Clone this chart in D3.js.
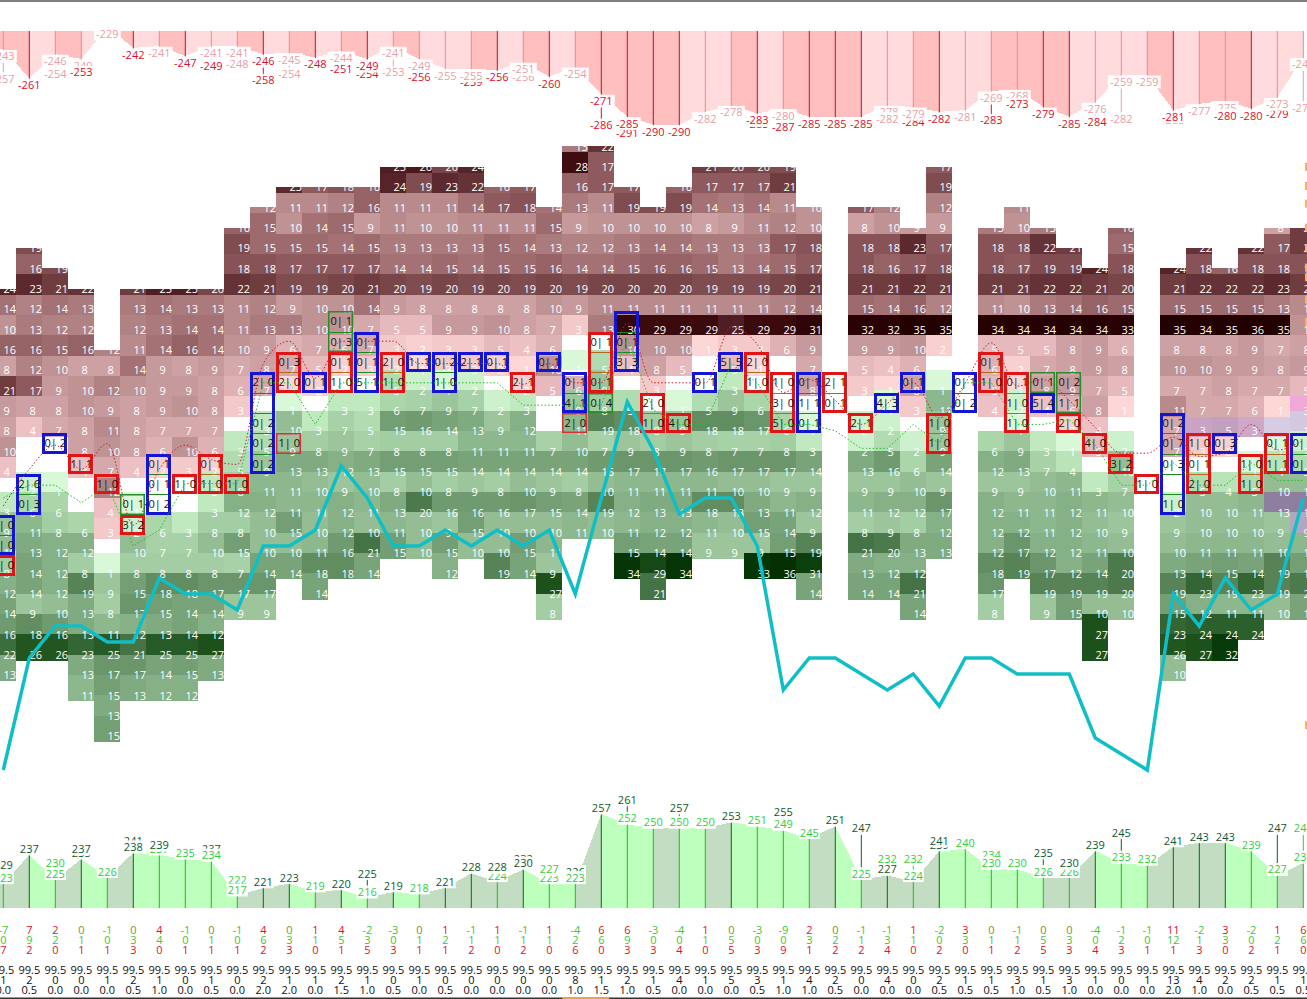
<!DOCTYPE html>
<html><head><meta charset="utf-8">
<script src="https://cdn.jsdelivr.net/npm/d3@7"></script>
<style>html,body{margin:0;padding:0;background:#fff;overflow:hidden}svg{display:block}text{font-family:"Open Sans",sans-serif;font-size:11px}</style>
</head><body><svg id="c" width="1307" height="999"></svg>
<script>
// grid rows: runs of [startColumn, values...]; positive = sell side (pink), negative = buy side (green), 0 = blank
const rowRuns = [
[[22,13,22]],
[[15,25,26,20,24],[22,28,17],[27,21,20,20,19],[36,17]],
[[11,23,17,18,16,24,19,23,22,16,17],[22,16,17,17],[26,16,17,17,17,21],[36,19]],
[[10,12,11,11,12,16,11,11,11,14,17,18,14,13,11,19,19,19,14,13,14,11,10],[33,17,12],[36,12],[39,11]],
[[9,16,15,10,14,15,9,11,10,10,11,11,11,15,9,10,10,10,10,8,9,11,12,10],[33,8,10,9,9],[38,13,10,13],[43,16],[49,8,21]],
[[1,19],[9,19,15,15,15,14,15,13,13,13,13,15,14,13,12,12,13,14,14,13,13,13,17,18],[33,18,18,23,17],[38,18,18,22,21],[43,15],[46,22],[48,22,17,21]],
[[1,16,19],[9,18,18,17,17,17,17,14,14,15,14,15,15,16,14,14,15,16,16,15,13,14,15,17],[33,18,16,17,18],[38,18,17,19,19,24,18],[45,24,18,16,18,18,18]],
[[0,24,23,21,22],[5,21,25,25,20,22,21,19,19,20,21,20,19,20,19,20,19,20,19,20,20,20,20,19,19,19,20,21],[33,21,21,22,21],[38,21,21,22,22,21,20],[45,21,22,22,22,23,21]],
[[0,14,12,14,13],[5,13,14,13,13,11,12,9,10,10,14,9,8,8,8,8,8,10,9,11,11,11,11,11,11,11,12,14],[33,15,14,16,12],[38,11,10,13,14,16,15],[45,15,15,15,15,13,11]],
[[0,10,13,12,12],[5,12,13,14,14,11,13,13,10,10,7,5,5,9,9,10,8,7,3,13,30,29,29,29,25,29,29,31],[33,32,32,35,35],[38,34,34,34,34,34,33],[45,35,34,35,36,35,10]],
[[0,16,16,15,16,12,11,14,16,14,10,9,6,7,6,7,3,2,3,3,5,4,6,0,0,10,10,10,1,3,3,6,9],[33,9,9,10,2],[38,5,5,5,8,9,6],[45,8,8,8,9,7,8]],
[[0,8,12,10,8,8,14,9,8,9,7,8,7,5,2,3,2,1,3,3,2,1,10,-1,-5,4,8,5,0,5,1,0,7],[33,5,4,6,0],[38,6,2,7,8,9,8],[45,10,10,9,9,8,9]],
[[0,21,17,9,10,12,10,9,9,8,6,7,1,2,0,0,-5,-2,-1,-2,0,2,5,6,-9,0,3,0,0,-3,0,0,8],[33,3,1,8,-1],[38,5,1,8,9,7,5],[45,7,7,8,7,7,5]],
[[0,9,8,8,10,9,8,9,10,8,3,0,-1,0,-3,-3,-6,-7,-9,-7,-2,-3,0,-9,-8,-5,0,-1,-5,-9,-6,0,0],[33,0,-1,3,-11],[38,4,-2,4,6,8,1],[45,11,7,7,6,1,3]],
[[0,8,4,7,8,11,8,7,7,7,0,-3,-10,-3,-7,-5,-15,-16,-14,-13,-9,-12,0,-11,-19,-18,-8,-9,-18,-18,-17,-6,-1],[33,-2,-2,0,-9],[38,0,-1,0,2,4,0],[45,7,3,5,3,0,-1]],
[[0,10,0,0,8,10,8,6,10,6,-3,-5,-9,-8,-9,-7,-8,-8,-8,-11,-11,-11,-7,-10,-7,-9,-8,-9,-8,-7,-7,-8,-3],[33,-2,-5,-2,-9],[38,-6,-9,-3,-1,5,-2],[45,7,3,2,0,-1,-2]],
[[0,4,0,0,4,7,4,2,3,2,-5,-9,-13,-13,-12,-13,-15,-15,-15,-14,-14,-14,-14,-14,-16,-17,-17,-17,-16,-17,-17,-17,-14],[33,-13,-16,-6,-14],[38,-12,-13,-7,-4,0,-10],[45,0,0,0,-1,-4,-5]],
[[0,0,-2,-1,0,12,0,0,0,-3,-8,-11,-11,-10,-9,-10,-8,-10,-8,-9,-8,-10,-9,-8,-10,-11,-11,-11,-11,-10,-10,-9,-9],[33,-9,-9,-10,-9],[38,-9,-9,-10,-11,-3,-7],[45,0,-5,-4,-5,-10,-10]],
[[0,-3,-6,-6,0,4,-1,0,0,-3,-12,-12,-11,-11,-12,-11,-13,-20,-16,-16,-16,-17,-15,-14,-19,-12,-13,-13,-18,-18,-13,-11,-12],[33,-11,-12,-12,-17],[38,-12,-11,-11,-12,-11,-10],[45,-2,-10,-10,-11,-13,-12]],
[[0,-9,-11,-8,-6,3,-2,-6,-3,-8,-8,-10,-15,-10,-12,-10,-11,-10,-9,-15,-10,-10,-10,-11,-10,-11,-12,-12,-11,-10,-15,-14,-9],[33,-8,-9,-8,-12],[38,-12,-12,-11,-12,-10,-9],[45,-9,-10,-10,-10,-9,-9]],
[[0,-10,-13,-12,-12,0,-10,-7,-7,-10,-15,-10,-10,-11,-16,-21,-15,-10,-15,-10,-10,-15,-11],[24,-15,-14,-14,-9,-9,-9,-15,-19],[33,-21,-20,-13,-13],[38,-12,-17,-12,-12,-11,-10],[45,-10,-11,-11,-11,-10,-11]],
[[0,-8,-14,-12,-8,-1,-8,-8,-8,-8,-7,-14,-14,-18,-18,-14],[17,-12],[19,-19,-14,-9],[24,-34,-29,-34],[29,-33,-36,-31],[33,-13,-12,-12],[38,-18,-19,-17,-12,-14,-20],[45,-13,-14,-15,-14,-19,-15]],
[[0,-12,-14,-12,-19,-9,-15,-18,-18,-17,-17,-17],[12,-14],[21,-27],[25,-21],[31,-14],[33,-14,-14,-21],[38,-17],[40,-19,-19,-19,-20],[45,-19,-23,-19,-23,-19,-20]],
[[0,-14,-9,-10,-13,-8,-17,-15,-14,-14,-9,-9],[21,-8],[35,-14],[38,-8],[40,-9,-15,-10,-10],[45,-15,-12,-11,-11,-10,-14]],
[[0,-16,-18,-16,-13,-11,-12,-13,-14,-12],[42,-27],[45,-23,-24,-24,-24]],
[[0,-22,-26,-26,-23,-25,-21,-25,-25,-27],[42,-27],[45,-26,-27,-32]],
[[0,-13],[3,-13,-17,-17,-14,-15,-13],[45,-10]],
[[3,-11,-15,-13,-12,-12]],
[[4,-13]],
[[4,-15]]
];
// tinted cells [col,row,colour]
const tints=[[46,14,"#c9a2c4"],[47,14,"#c4a0c0"],[48,14,"#cfa8c8"],[49,14,"#d6cde2"],[50,14,"#d2c8e0"],[50,13,"#f0a8d8"],[49,18,"#8f7f9f"],[50,18,"#8f7f9f"],[50,19,"#b0a8c0"]];
// order boxes: [col,row,"a|b",kind]  b=blue r=red g=green t=thin red
const orderBoxes=[
[0,19,"0|0","b"],[0,20,"0|0","b"],[0,21,"0|0","r"],[1,17,"2|6","b"],[1,18,"0|3","b"],[2,15,"0|2","b"],[3,16,"1|1","r"],[4,17,"1|0","r"],
[5,18,"0|1","g"],[5,19,"3|2","r"],[6,16,"0|1","b"],[6,17,"0|1","b"],[6,18,"0|2","b"],[7,17,"1|0","r"],[8,16,"0|1","r"],[8,17,"1|0","r"],[9,17,"1|0","r"],
[10,12,"2|0","b"],[10,13,"","b"],[10,14,"0|2","b"],[10,15,"0|2","b"],[10,16,"0|2","b"],[11,15,"1|0","t"],[11,11,"0|3","r"],[11,12,"2|0","r"],[12,12,"0|1","b"],
[13,9,"0|1","g"],[13,10,"0|3","g"],[13,11,"0|1","r"],[13,12,"1|0","r"],[14,10,"0|1","b"],[14,11,"0|1","b"],[14,12,"5|1","b"],[15,11,"2|0","r"],[15,12,"1|0","r"],
[16,11,"1|1","b"],[17,11,"0|2","b"],[17,12,"1|0","b"],[18,11,"2|1","b"],[19,11,"0|1","b"],[20,12,"2|1","r"],[21,11,"0|1","b"],[22,12,"0|1","b"],[22,13,"4|1","b"],[22,14,"2|0","t"],
[23,10,"0|1","r"],[23,11,"","r"],[23,12,"0|1","r"],[23,13,"0|4","g"],[24,9,"0|1","b"],[24,10,"0|1","b"],[24,11,"3|3","b"],[25,13,"2|0","r"],[25,14,"1|0","r"],[26,14,"4|0","r"],
[27,12,"0|1","b"],[28,11,"5|5","b"],[29,11,"2|0","r"],[29,12,"1|0","r"],[30,12,"1|0","r"],[30,13,"3|0","r"],[30,14,"5|0","r"],[31,12,"0|1","b"],[31,13,"1|1","b"],[31,14,"0|1","b"],
[32,12,"2|1","r"],[32,13,"0|1","r"],[33,14,"2|1","r"],[34,13,"4|3","b"],[35,12,"0|1","b"],[36,14,"1|0","r"],[36,15,"1|0","r"],[37,12,"0|1","b"],[37,13,"0|2","b"],
[38,11,"0|1","r"],[38,12,"1|0","r"],[39,12,"0|1","r"],[39,13,"1|0","r"],[39,14,"1|0","r"],[40,12,"0|1","g"],[40,13,"5|4","b"],[41,12,"0|2","g"],[41,13,"1|1","g"],[41,14,"2|0","r"],
[42,15,"4|0","r"],[43,16,"3|2","r"],[44,17,"1|0","r"],[45,14,"0|2","b"],[45,15,"0|7","b"],[45,16,"0|3","b"],[45,17,"","b"],[45,18,"1|0","b"],
[46,15,"1|0","r"],[46,16,"0|1","r"],[46,17,"2|0","r"],[47,15,"0|3","b"],[48,16,"1|0","r"],[48,17,"1|0","r"],[49,15,"0|1","r"],[49,16,"1|1","r"],[50,15,"0|4","b"],[50,16,"0|1","b"]
];
const priceLine=[0,7,9,9,8,8,12,11,11,10,14,14,15,19,17,14,14,15,14,15,14,15,11,17,23,20,16,17,17,14,5,7,7,6,5,6,4,7,7,6,6,6,2,1,0,11,9,12,10,11,17];
// dotted trend lines in the same price units
const redTrend=[16.5,18.8,20.3,18.8,20.4,15.3,18.8,20.3,19.4,19.1,25.4,26.8,24.5,26.8,26.8,26.8,25.4,25.4,25.4,25.4,24.1,25.4,24.2,24.2,27.9,24.2,24.2,24.2,27.7,26.6,23.6,24.4,23.1,21.6,22.9,24.2,22,24.2,26.7,24,24.4,23.1,21.4,19.8,19.8,20.8,19.6,19.8,21.6,20,20.6];
const greenTrend=[17,17.8,17.8,16.7,17.8,14,15,17.9,17.9,17.9,24.2,24.2,21.6,24.2,24.2,24.2,24.2,24.2,24.2,24.2,22.8,22.8,22.8,22.8,27,22.5,21.6,21.6,25.4,24.2,21.6,21.6,21.2,20.1,20.1,21.6,20.4,24.2,24.2,21.6,21.6,21.9,20.3,17.8,17.8,19.2,17.8,17.8,19.2,18.1,18.1];
// top strip
const topNear=[243,261,246,249,229,242,241,247,241,241,246,245,248,244,249,241,249,255,255,256,251,260,254,271,285,290,290,282,278,283,280,285,285,285,278,279,282,281,269,268,279,285,276,259,259,281,277,275,280,273,248];
const topFar=[257,null,254,253,null,null,null,null,249,248,258,254,null,251,254,253,256,null,259,null,256,null,null,286,291,null,null,null,null,285,287,null,null,null,282,284,null,null,283,273,null,null,284,282,null,283,null,280,null,279,275];
const topNearRed=[0,1,0,0,0,1,0,1,0,0,1,0,1,0,1,0,0,0,0,1,0,1,0,1,1,1,1,0,0,1,0,1,1,1,0,0,1,0,0,0,1,1,0,0,0,1,0,0,1,0,0];
const topFarRed=[0,0,0,1,0,0,0,0,1,0,1,0,0,1,1,0,1,0,1,0,0,0,0,1,1,0,0,0,0,1,1,0,0,0,0,1,0,0,1,1,0,0,1,0,0,1,0,1,0,1,0];
const topBand=[1,1,0,1,0,1,0,1,0,0,1,0,1,0,1,0,1,0,0,1,0,1,0,1,1,1,1,0,0,1,0,1,1,1,0,0,1,0,0,1,1,1,0,0,0,1,0,1,1,0,0];
const topFarOver=[3,34,39,47];
// bottom strip
const botNear=[223,237,225,235,226,238,237,235,234,217,221,223,219,220,216,219,218,221,228,224,230,223,223,257,252,250,250,250,253,251,249,245,251,225,227,224,239,240,230,230,226,226,239,233,232,241,243,243,239,227,233];
const botFar=[229,null,230,237,null,241,239,null,237,222,null,null,null,null,225,null,null,null,null,228,232,227,226,null,261,null,257,null,null,null,255,null,null,247,232,232,241,null,234,null,235,230,null,245,null,null,null,null,null,247,247];
const botNearDark=[0,1,0,1,0,1,0,0,0,0,1,1,0,1,0,1,0,1,1,0,1,0,0,1,0,0,0,0,1,0,0,0,1,0,1,0,1,0,0,0,0,0,1,0,0,1,1,1,0,0,0];
const botFarDark=[1,0,0,1,0,1,1,0,1,0,0,0,0,0,1,0,0,0,0,1,1,0,1,0,1,0,1,0,0,0,1,0,0,1,0,0,1,0,0,0,1,1,0,1,0,0,0,0,0,1,0];
const botBand=[1,1,0,1,0,1,0,0,0,0,1,1,0,1,0,1,0,1,1,1,1,0,0,1,0,0,1,0,1,0,0,0,1,0,1,1,1,0,0,0,0,1,1,0,0,1,1,1,0,0,1];
const botFarOver=[3,6,19,21,36,41];
// numeric rows under the strip
const deltaRow=[-7,7,2,0,-1,0,4,-1,0,-1,4,0,1,4,-2,-3,0,1,-1,1,-1,1,-4,6,6,-3,-4,1,0,-3,-9,2,0,-1,-1,1,-2,3,0,-1,0,0,-4,-1,-1,11,-2,3,-2,1,6];
const buyRow=[0,9,2,1,0,3,4,0,1,0,6,3,1,5,3,0,1,2,1,1,1,1,2,6,9,0,0,1,5,0,0,3,2,1,3,1,0,3,1,1,5,3,0,2,0,12,1,3,0,2,6];
const sellRow=[7,2,0,1,1,3,0,1,1,1,2,3,0,1,5,3,1,1,2,0,2,0,6,0,3,3,4,0,5,3,9,1,2,2,4,0,2,0,1,2,5,3,4,3,1,1,3,0,2,1,0];
const pctLabel="99.5";
const countRow=[1,2,0,0,1,2,1,0,1,0,2,1,1,2,1,0,1,0,0,0,0,0,8,1,2,1,4,1,5,3,1,4,2,0,4,0,2,1,1,3,1,3,1,0,1,13,4,2,2,1,1];
const spreadRow=["0.0","0.5","0.0","0.0","0.0","0.5","1.0","0.0","0.5","0.0","2.0","2.0","0.0","1.5","1.0","0.5","0.0","0.5","0.0","0.0","0.0","0.0","1.0","1.5","1.0","0.5","0.0","0.0","0.0","0.5","1.0","1.0","0.5","0.0","0.0","0.0","0.5","0.5","0.5","1.0","0.5","1.0","0.0","0.0","0.0","2.0","1.0","0.0","0.5","0.5","0.5"];
const edgeMarks=[37.7,36.5,35.4,33.9,32.6,31.4,30.8,29.4,28,2.8];

const svg=d3.select("#c");
const x=d3.scaleLinear().domain([0,50]).range([3.3,1303.3]);
const rowY=d3.scaleLinear().domain([0,29]).range([146.4,736]);
const topY=d3.scaleLinear().domain([229,290]).range([34,131.6]);
const botY=d3.scaleLinear().domain([216,261]).range([892,799.8]);
const priceY=d3.scaleLinear().domain([0,23]).range([770,402]);
const pinkC=d3.scaleLinear().domain([0,1,3,5,8,11,14,17,20,23,28,32,36]).range(["#fff","#fdd6d6","#f4c9c9","#e6b9bc","#cda1a4","#b88a8c","#a47275","#8e5a5d","#784548","#5c2a2e","#3f0c10","#2a0205","#220000"]);
const greenC=d3.scaleLinear().domain([0,1,3,6,8,10,12,14,17,20,24,27,33,36]).range(["#fff","#d8f8d8","#c0e9c0","#aad6aa","#a3cda3","#94bd94","#86b086","#79a479","#6b966b","#4d7a4d","#2b5f2b","#1c511c","#053605","#043004"]);

// top / bottom rules
svg.append("rect").attr("x",0).attr("y",0).attr("width",1307).attr("height",2).attr("fill","#7f7f7f");
svg.append("rect").attr("x",0).attr("y",997.5).attr("width",1307).attr("height",1.5).attr("fill","#333");
svg.append("rect").attr("x",x(21.5)).attr("y",997).attr("width",x(23.3)-x(21.5)).attr("height",2).attr("fill","#f0a040");

// grid
const H=rowY(1)-rowY(0), W=x(1)-x(0);
const cells=[];
rowRuns.forEach((runs,r)=>runs.forEach(run=>run.slice(1).forEach((v,i)=>cells.push({c:run[0]+i,r,v}))));
const byCol=d3.group(cells,d=>d.c);
byCol.forEach(list=>{list.sort((a,b)=>a.r-b.r);
  if(list[0].v>0) list[0].first=true;
  const last=list[list.length-1]; if(last.v<0) last.last=true;});
const tintOf=(c,r)=>{const t=tints.find(t=>t[0]===c&&t[1]===r);return t?t[2]:null;};
const R=Math.round, left=c=>R(x(c)-W/2);
const G=svg.append("g").attr("shape-rendering","crispEdges");
const pos=cells.filter(d=>d.v>0), neg=cells.filter(d=>d.v<0);
const pTop=d=>R(d.first?rowY(d.r):rowY(d.r)-H+6), pBot=d=>R(rowY(d.r)+6);
const nTop=d=>R(rowY(d.r)-H), nBot=d=>R(rowY(d.r)+(d.last?6:0));
G.selectAll("rect.p").data(pos).join("rect").attr("class","p")
 .attr("x",d=>left(d.c)).attr("width",d=>left(d.c+1)-left(d.c))
 .attr("y",pTop).attr("height",d=>pBot(d)-pTop(d))
 .attr("fill",d=>tintOf(d.c,d.r)||pinkC(d.v));
G.selectAll("rect.n").data(neg).join("rect").attr("class","n")
 .attr("x",d=>left(d.c)).attr("width",d=>left(d.c+1)-left(d.c))
 .attr("y",nTop).attr("height",d=>nBot(d)-nTop(d))
 .attr("fill",d=>tintOf(d.c,d.r)||greenC(-d.v));
G.selectAll("rect.t").data(tints.filter(t=>!cells.some(d=>d.c===t[0]&&d.r===t[1]&&d.v!==0))).join("rect").attr("class","t")
 .attr("x",t=>left(t[0])).attr("width",26).attr("y",t=>R(rowY(t[1])-H+6)).attr("height",20).attr("fill",t=>t[2]);
const T=svg.append("g");
T.selectAll("text.v").data(cells.filter(d=>d.v!==0)).join("text").attr("class","v")
 .attr("x",d=>x(d.c)+.2).attr("y",d=>rowY(d.r)+4.2).attr("fill","#fff").text(d=>Math.abs(d.v));
T.selectAll("rect.mask").data(cells.filter(d=>d.first)).join("rect").attr("class","mask")
 .attr("x",d=>left(d.c)).attr("width",26).attr("y",d=>R(rowY(d.r))-13).attr("height",13).attr("fill","#fff");

// boxes: neighbouring boxes of one colour in one column share a single outline
const boxColor={b:"#1414d2",r:"#e01414",g:"#2b8a2b",t:"#d83030"};
const boxStroke={b:3,r:3,g:1.5,t:1.5};
const rank={g:0,t:1,r:2,b:3};
const sorted=orderBoxes.slice().sort((a,b)=>rank[a[3]]-rank[b[3]]||a[0]-b[0]||a[1]-b[1]);
const groups=[];
sorted.forEach(b=>{const g=groups[groups.length-1];
  if(g&&g.c===b[0]&&g.k===b[3]&&g.r1===b[1]-1&&b[3]!=="t"){g.r1=b[1];}
  else groups.push({c:b[0],k:b[3],r0:b[1],r1:b[1]});});
const B=svg.append("g");
const boxTop=r=>rowY(r)-18, seps=[];
groups.forEach(g=>{for(let r=g.r0;r<g.r1;r++) seps.push({c:g.c,r,k:g.k});});
B.selectAll("line").data(seps).join("line").attr("x1",d=>left(d.c)+2).attr("x2",d=>left(d.c)+24)
 .attr("y1",d=>R(boxTop(d.r+1))+.5).attr("y2",d=>R(boxTop(d.r+1))+.5)
 .attr("stroke",d=>d.k==="r"?"#b06a20":"#1e8a1e").attr("stroke-width",1);
B.selectAll("rect").data(groups).join("rect")
 .attr("x",d=>left(d.c)+boxStroke[d.k]/2).attr("width",d=>25-boxStroke[d.k])
 .attr("y",d=>R(boxTop(d.r0))+boxStroke[d.k]/2).attr("height",d=>R(boxTop(d.r1)+20.3)-R(boxTop(d.r0))-boxStroke[d.k])
 .attr("fill","none").attr("stroke",d=>boxColor[d.k]).attr("stroke-width",d=>boxStroke[d.k]);
B.selectAll("text").data(sorted).join("text")
 .attr("x",d=>x(d[0])).attr("y",d=>rowY(d[1])-4).attr("text-anchor","middle").attr("fill","#111")
 .text(d=>d[2].replace("|","| "));

// dotted trends and price line
const ln=d3.line().x((d,i)=>x(i)).y(d=>priceY(d));
svg.append("path").attr("d",ln.curve(d3.curveMonotoneX)(redTrend)).attr("fill","none").attr("stroke","#c81e28").attr("stroke-width",1).attr("stroke-dasharray","1.5 2");
svg.append("path").attr("d",ln.curve(d3.curveLinear)(greenTrend)).attr("fill","none").attr("stroke","#20c020").attr("stroke-width",1).attr("stroke-dasharray","1.5 2");
svg.append("path").attr("d",d3.line().x((d,i)=>x(i)).y(d=>priceY(d))(priceLine)).attr("fill","none").attr("stroke","#10bfc6").attr("stroke-width",3.5).attr("stroke-linejoin","miter");

// edge marks
svg.selectAll("rect.e").data(edgeMarks).join("rect").attr("class","e").attr("x",1305).attr("width",2).attr("y",d=>priceY(d)-4).attr("height",8).attr("fill","#f5b94a");

// strips
function strip(opts){
  const {near,far,base,y,edge,band,c1,c2,nearCol,farCol,lineCol,farOver}=opts;
  const g=svg.append("g");
  const area=d3.area().x(d=>x(d.i)).y0(base).y1(d=>y(d.v)+edge);
  for(let i=0;i<near.length;i++){
    const a=i===0?{i:-1,v:near[0]}:{i:i-1,v:near[i-1]};
    g.append("path").attr("d",area([a,{i,v:near[i]}])).attr("fill",band[i]?c1:c2).attr("shape-rendering","crispEdges");
  }
  near.forEach((v,i)=>{
    g.append("line").attr("x1",x(i)).attr("x2",x(i)).attr("y1",base).attr("y2",y(v)).attr("stroke",lineCol(i)).attr("stroke-width",1);
    if(far[i]!=null) g.append("line").attr("x1",x(i)).attr("x2",x(i)).attr("y1",y(v)).attr("y2",y(far[i])).attr("stroke",farCol(i)).attr("stroke-width",1);
  });
  const label=(v,i,col)=>{
    const s=opts.fmt(v);
    g.append("rect").attr("x",x(i)-s.length*3-1.5).attr("width",s.length*6+3).attr("y",y(v)-6.5).attr("height",13).attr("fill","#fff").attr("opacity",.9);
    g.append("text").attr("x",x(i)).attr("y",y(v)+4).attr("text-anchor","middle").attr("fill",col).text(s);
  };
  near.forEach((v,i)=>{
    const f=far[i];
    if(f==null){label(v,i,nearCol(i));return;}
    if(farOver.includes(i)){label(v,i,nearCol(i));label(f,i,farCol(i));}
    else{label(f,i,farCol(i));label(v,i,nearCol(i));}
  });
}
const redT="#d8102c", paleT="#e8a0a8", darkT="#0e5a2e", brightT="#2ecf3e";
strip({near:topNear,far:topFar,base:31,y:topY,edge:-7,band:topBand,c1:"#ffbfbf",c2:"#ffdbdd",fmt:v=>"-"+v,farOver:topFarOver,
  nearCol:i=>topNearRed[i]?redT:paleT,farCol:i=>topFarRed[i]?redT:paleT,lineCol:i=>topNearRed[i]?"#c4101f":"#e88a94"});
strip({near:botNear,far:botFar,base:908,y:botY,edge:6,band:botBand,c1:"#c3ddc3",c2:"#bdffbd",fmt:v=>""+v,farOver:botFarOver,
  nearCol:i=>botNearDark[i]?darkT:brightT,farCol:i=>botFarDark[i]?darkT:brightT,lineCol:i=>botNearDark[i]?"#0a6a10":"#18c018"});

// numeric rows
const col=(arr,yy,fill)=>svg.append("g").selectAll("text").data(arr).join("text")
  .attr("x",(d,i)=>x(i)).attr("y",yy).attr("text-anchor","middle").attr("fill",fill).text(d=>d);
col(deltaRow,934,d=>d>0?"#e0102c":d<0?"#38c838":"#8a8a30");
col(buyRow,944,"#38c838");
col(sellRow,954,"#e0102c");
col(deltaRow.map(()=>pctLabel),974,"#111");
col(countRow,984,"#111");
col(spreadRow,994,"#111");
</script></body></html>
